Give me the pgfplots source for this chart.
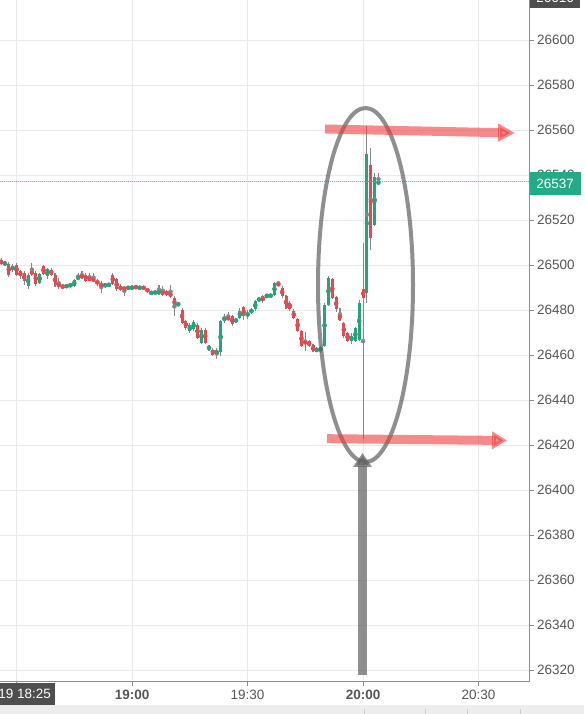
\documentclass[border=0pt]{standalone}
\usepackage{pgfplots}
\pgfplotsset{compat=1.18}
\usepackage{pgfplotstable}
\usepackage{fontspec}
\setmainfont{Liberation Sans}
\usetikzlibrary{arrows.meta}
\definecolor{upc}{RGB}{36,164,122}
\definecolor{dnc}{RGB}{230,72,80}
\definecolor{wick}{RGB}{135,135,135}
\definecolor{gridc}{RGB}{233,233,233}
\definecolor{axc}{RGB}{140,140,140}
\definecolor{lbl}{RGB}{85,85,85}
\definecolor{lastc}{RGB}{34,171,132}
\definecolor{dotc}{RGB}{70,205,170}
\definecolor{darkbox}{RGB}{78,78,78}
\definecolor{arrred}{RGB}{240,60,60}
\definecolor{annogray}{RGB}{95,95,95}

\pgfplotstableread{
t O H L C
27 26500.3 26502 26499.5 26501.3
29 26498.1 26500.5 26497 26499.6
33 26490.7 26496.5 26489.6 26495.9
36 26492.2 26496.5 26491.5 26495.9
38 26495.1 26498.8 26494 26498.1
43 26490.5 26491.5 26490 26491.0
44 26490.7 26492 26490 26491.4
45 26490.7 26494 26490.2 26493.6
46 26494.1 26496.6 26493.5 26494.7
53 26491.0 26492 26490 26491.4
54 26491.1 26492 26490.5 26491.6
59 26489.6 26490.8 26489 26490.2
60 26489.2 26491.2 26488.8 26490.7
62 26489.2 26491.2 26488.8 26490.7
65 26487.4 26488.5 26486.8 26488.0
66 26487.3 26489 26486.8 26488.4
67 26487.4 26491.5 26487 26488.9
72 26482.5 26483.3 26481.8 26482.9
75 26470.7 26474.2 26470 26473.6
76 26471.4 26475.5 26470.8 26474.8
78 26465.5 26472 26465 26471.4
80 26463.0 26464.6 26462 26463.4
82 26460.3 26463 26458.5 26462.5
83 26461.5 26475.8 26459.5 26475.1
84 26475.9 26478.5 26474.5 26476.3
87 26474.8 26476.6 26474.2 26476.0
88 26476.6 26481 26476 26479.6
90 26478.0 26480 26476 26478.5
91 26479.0 26481 26478.5 26480.4
92 26480.4 26484.6 26479.8 26484.0
93 26484.0 26486 26483.5 26485.5
95 26486.2 26487 26485.8 26486.5
96 26486.2 26487.2 26485.8 26486.8
97 26486.8 26492.6 26486.2 26492.1
108 26462.2 26463.5 26461.5 26462.5
109 26462.2 26464 26461 26463.5
110 26464.0 26483 26463.5 26482.5
111 26482.5 26495 26482 26494.4
117 26466.5 26470 26465 26468.5
118 26466.5 26472.6 26466 26472.0
119 26467.0 26484.6 26466.5 26483.2
121 26487.7 26561.8 26483.2 26549.5
123 26518.0 26541 26517.5 26539.4
124 26536.0 26541 26535.5 26537.3
}\up

\pgfplotstableread{
t O H L C
26 26502.1 26503 26500 26500.6
28 26500.6 26501.5 26495 26495.9
30 26500.3 26501 26495 26495.9
31 26497.3 26498 26494 26495.1
32 26496.6 26497.5 26491.4 26492.9
34 26497.3 26501 26495 26495.9
35 26496.6 26497.5 26491 26491.4
37 26499.6 26500.3 26495.5 26495.9
39 26498.1 26498.8 26495 26495.9
40 26495.9 26496.5 26490.5 26491.4
41 26492.2 26494.5 26489.5 26490.2
42 26490.7 26491.5 26489.8 26490.2
47 26495.9 26497.3 26494 26494.4
48 26495.9 26496.5 26492.5 26493.2
49 26494.7 26496.6 26492.8 26493.2
50 26494.1 26496.6 26492.5 26492.9
51 26493.2 26493.8 26491 26491.7
52 26491.4 26492.9 26487.7 26491.1
55 26495.9 26496.5 26491 26491.7
56 26493.6 26494.2 26488.5 26489.2
57 26490.7 26491.5 26488.5 26489.2
58 26490.2 26490.8 26486.2 26489.2
61 26490.5 26491 26489.5 26490.0
63 26490.2 26490.8 26489 26489.6
64 26489.5 26490 26487.8 26488.2
68 26488.7 26491 26486.5 26487.0
69 26488.2 26488.8 26486.5 26487.0
70 26487.7 26491 26485.5 26486.2
71 26485.5 26486.2 26477.3 26481.8
73 26480.3 26481 26473.8 26474.4
74 26475.1 26475.8 26471.5 26472.2
77 26473.6 26474.3 26467 26467.7
79 26471.4 26472 26465 26465.5
81 26462.5 26463.2 26459.8 26460.3
85 26476.6 26479 26475.5 26476.0
86 26477.3 26478 26473.2 26473.9
89 26481.3 26482 26475.5 26477.3
94 26486.2 26486.8 26483.4 26484.0
98 26491.7 26493 26490.8 26491.1
99 26490.0 26490.6 26485.5 26486.2
100 26486.2 26486.8 26480.5 26481.0
101 26483.3 26484 26479.6 26480.3
102 26479.6 26480.3 26476 26476.6
103 26476.0 26476.6 26470.2 26470.7
104 26470.7 26471.3 26463.5 26464.0
105 26466.2 26470.4 26461.8 26465.3
106 26466.2 26466.8 26463.5 26464.0
107 26464.4 26465 26461.3 26461.8
112 26493.8 26494.4 26484.8 26485.3
113 26485.8 26486.4 26479 26480.4
114 26478.4 26481 26475.5 26476.0
115 26474.4 26475 26467.8 26468.4
116 26469.9 26470.5 26465.7 26466.2
120 26489.3 26509.8 26422.7 26485.3
122 26544.4 26552 26506.7 26512.0
}\down

\begin{document}
\begin{tikzpicture}[x=1pt,y=1pt]
\begin{axis}[
  at={(0pt,32pt)}, anchor=south west,
  width=529pt, height=682pt, scale only axis,
  xmin=25.71, xmax=163.1, ymin=26314.7, ymax=26617.8,
  axis x line*=bottom, axis y line*=right,
  axis line style={draw=axc, line width=1pt},
  tick align=outside, major tick length=4.5pt,
  tick style={draw=axc, line width=0.8pt},
  xtick={30,60,90,120,150},
  xticklabels={,\textbf{19:00},19:30,\textbf{20:00},20:30},
  ytick={26320,26340,...,26600},
  scaled y ticks=false,
  yticklabel={\pgfmathprintnumber[fixed,precision=0,1000 sep={},assume math mode=true]{\tick}},
  grid=major, major grid style={draw=gridc, line width=0.8pt},
  yticklabel style={font=\fontsize{13.5}{15}\selectfont, text=lbl},
  xticklabel style={font=\fontsize{13.5}{15}\selectfont, text=lbl},
]
% wicks
\addplot[wick, only marks, mark=none, forget plot,
  error bars/y dir=both, error bars/y explicit, error bars/error mark=none,
  error bars/error bar style={line width=1.1pt, wick}]
  table[x=t, y expr={(\thisrow{H}+\thisrow{L})/2}, y error expr={(\thisrow{H}-\thisrow{L})/2}] {\up};
\addplot[wick, only marks, mark=none, forget plot,
  error bars/y dir=both, error bars/y explicit, error bars/error mark=none,
  error bars/error bar style={line width=1.1pt, wick}]
  table[x=t, y expr={(\thisrow{H}+\thisrow{L})/2}, y error expr={(\thisrow{H}-\thisrow{L})/2}] {\down};
% bodies
\addplot[upc, only marks, mark=none, forget plot,
  error bars/y dir=both, error bars/y explicit, error bars/error mark=none,
  error bars/error bar style={line width=3pt, upc}]
  table[x=t, y expr={(\thisrow{O}+\thisrow{C})/2}, y error expr={max(abs(\thisrow{C}-\thisrow{O})/2,0.3)}] {\up};
\addplot[dnc, only marks, mark=none, forget plot,
  error bars/y dir=both, error bars/y explicit, error bars/error mark=none,
  error bars/error bar style={line width=3pt, dnc}]
  table[x=t, y expr={(\thisrow{O}+\thisrow{C})/2}, y error expr={max(abs(\thisrow{C}-\thisrow{O})/2,0.3)}] {\down};
\end{axis}

% last price line at 26537 (image y 181.75 -> 532.25), dotted as short solid dashes
\foreach \i in {0,2,...,528} \fill[dotc] (\i,531.6) rectangle ({\i+1.1},532.9);

% annotations (image pixel coords: x, 714-y)
\draw[annogray, opacity=0.7, line width=4pt] (365.5,429) ellipse [x radius=47.5, y radius=177];
\draw[arrred, opacity=0.6, line width=9pt, -{Triangle[width=17pt,length=17pt]}] (325,585) -- (515,581);
\draw[arrred, opacity=0.6, line width=9pt, -{Triangle[width=17pt,length=15pt]}] (327,275.3) -- (507,273.5);
\draw[annogray, opacity=0.7, line width=8.5pt, -{Triangle[width=18pt,length=14pt]}] (362.5,39) -- (362.5,261);

% price labels
\node[fill=lastc, text=white, minimum width=51pt, minimum height=23pt, inner sep=0pt, anchor=west,
  font=\fontsize{13.5}{15}\selectfont] at (529.5,530.5) {26537};
\node[fill=darkbox, text=white, minimum width=50pt, minimum height=20pt, inner sep=0pt, anchor=south west,
  font=\fontsize{13.5}{15}\selectfont] at (530,706) {26616};

% bottom band and time label
\fill[black!7] (0,0) rectangle (584,9);
\foreach \xx in {364,425,467,520} \draw[black!20, line width=0.6pt] (\xx,0) -- (\xx,5);
\node[fill=darkbox, text=white, anchor=north east, minimum height=22pt, inner xsep=4pt, inner ysep=0pt,
  font=\fontsize{13.5}{15}\selectfont] at (55,31) {19 18:25};

\pgfresetboundingbox
\useasboundingbox (0,0) rectangle (584,714);
\end{tikzpicture}
\end{document}
